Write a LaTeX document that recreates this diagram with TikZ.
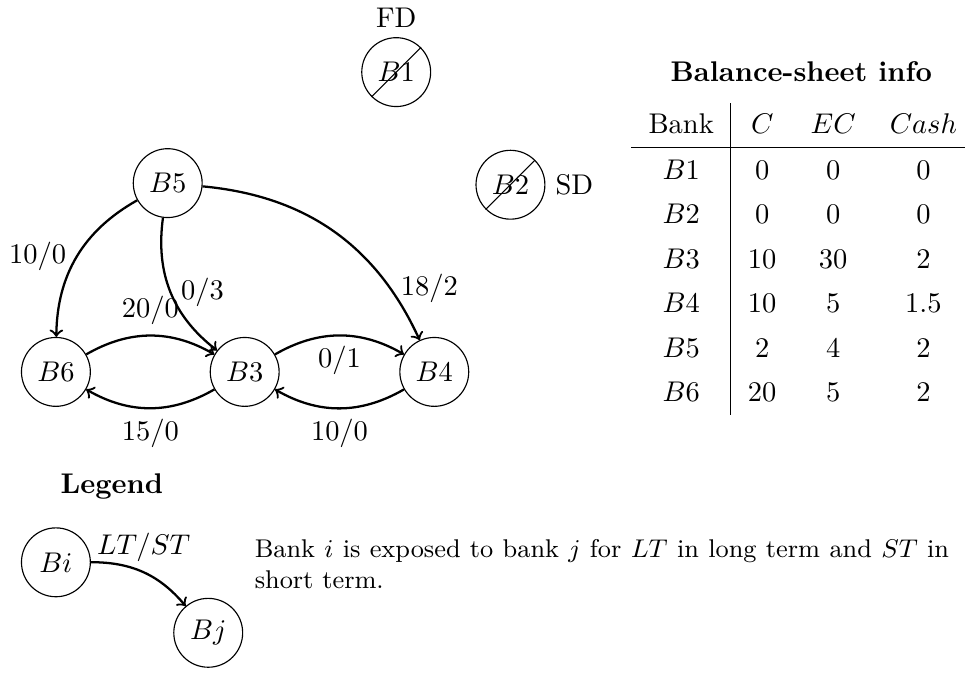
\documentclass[tikz,border=0pt]{standalone}
\usepackage{tikz}
\usetikzlibrary{arrows,positioning}
\newcommand{\ExposureArrowType}{to}
\tikzset{bank/.style={draw, circle, minimum size=0.85cm, inner sep=0pt}}
\tikzset{exposure/.style={->, thick}}

\begin{document}
\begin{tikzpicture}[>=\ExposureArrowType]
				\useasboundingbox (0.0, 0.0) rectangle (11.91, -8.31);
				\node[bank] (B1) at (4.89, -0.89) {$B1$};
				\node[bank] (B2) at (6.30, -2.28) {$B2$};
				\node[bank] (B5) at (2.07, -2.26) {$B5$};
				\node[bank] (B6) at (0.69, -4.59) {$B6$};
				\node[bank] (B3) at (3.02, -4.59) {$B3$};
				\node[bank] (B4) at (5.36, -4.59) {$B4$};
				\draw (B1.south west) -- (B1.north east);
				\draw (B2.south west) -- (B2.north east);
				\node[above=0.0cm of B1] (FD) {FD};
				\node[right=0.0cm of B2] (SD) {SD};
				\draw[exposure] (B5) to[bend right] node[left] {$10/0$} (B6);
				\draw[exposure] (B5) to[bend right] node[right] {$0/3$} (B3);
				\draw[exposure] (B5) to[bend left] node[pos=0.8, right] {$18/2$} (B4);
				\draw[exposure] (B6) to[bend left] node[above] {$20/0$} (B3);
				\draw[exposure] (B3) to[bend left] node[below] {$15/0$} (B6);
				\draw[exposure] (B3) to[bend left] node[below] {$0/1$} (B4);
				\draw[exposure] (B4) to[bend left] node[below] {$10/0$} (B3);
				\node[font=\bfseries] (title) at (9.89, -0.89) {Balance-sheet info};
				\node[anchor=north east, inner sep=0pt] (info) at (12.03, -1.26) {\renewcommand{\arraystretch}{1.3}%
					\begin{tabular}{c|ccc}
						Bank & $C$ & $EC$ & $Cash$ \\ \hline
						$B1$ & 0 & 0 & 0 \\
						$B2$ & 0 & 0 & 0 \\
						$B3$ & 10 & 30 & 2 \\
						$B4$ & 10 & 5 & 1.5 \\
						$B5$ & 2 & 4 & 2 \\
						$B6$ & 20 & 5 & 2
					\end{tabular}};
				\node[font=\bfseries] (legend) at (1.38, -6.01) {Legend};
				\node[bank] (Bi) at (0.69, -6.94) {$Bi$};
				\node[bank] (Bj) at (2.57, -7.81) {$Bj$};
				\draw[exposure] (Bi) to[bend left=25] node[above, pos=0.5] {$LT/ST$} (Bj);
				\node[anchor=west, font=\small, text width=8.57cm, align=justify] (explain) at (3.02, -6.96) {Bank $i$ is exposed to bank $j$ for $LT$ in long term and $ST$ in short term.};
		\end{tikzpicture}
\end{document}
